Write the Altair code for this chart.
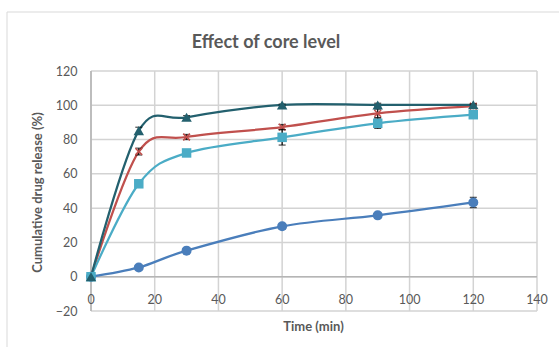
import altair as alt
import pandas as pd

time_min = [0, 15, 30, 60, 90, 120]
series_names = ["Core level 1", "Core level 2", "Core level 3", "Core level 4"]
s1 = [0, 5.4, 15.2, 29.4, 35.8, 43.3]
s2 = [0, 73.0, 81.5, 87.3, 95.3, 99.5]
s3 = [0, 54.2, 72.2, 81.3, 89.5, 94.5]
s4 = [0, 85.2, 93.0, 100.2, 100.2, 100.3]
e1 = [0, 1, 1.5, 1.5, 1.5, 3]
e2 = [0, 2, 1.5, 1.5, 2.5, 1]
e3 = [0, 2, 1.5, 4.5, 3, 1]
e4 = [0, 2, 1, 0.5, 1, 0.5]
x_ticks = [0, 20, 40, 60, 80, 100, 120, 140]
y_ticks = [-20, 0, 20, 40, 60, 80, 100, 120]

colors = ["#4A7EBB", "#C0504D", "#4BACC6", "#23606E"]
shapes = ["circle", "M-1,-1L1,1M-1,1L1,-1", "square", "triangle-up"]
sizes = [100, 45, 90, 110]
filled = [True, False, True, True]

rows = []
for name, vals, errs in zip(series_names, [s1, s2, s3, s4], [e1, e2, e3, e4]):
    for t, v, e in zip(time_min, vals, errs):
        rows.append({"series": name, "time": t, "value": v, "lo": v - e, "hi": v + e})
df = pd.DataFrame(rows)
xtick_df = pd.DataFrame({"tick": x_ticks, "zero": [0] * len(x_ticks)})
ytick_df = pd.DataFrame({"ytick": y_ticks})

TXT = "#595959"
GRID = "#D3D3D3"
AXIS = "#B5B5B5"
FONT = "Lato"

xs = alt.Scale(domain=[0, 140], nice=False, zero=False)
ys = alt.Scale(domain=[-20, 120], nice=False, zero=False)

X_AX = alt.Axis(
    values=x_ticks, grid=False, labels=False, ticks=False,
    domain=False, title="Time (min)", titleFont=FONT, titleFontSize=13,
    titleFontWeight="bold", titleColor=TXT, titleX=222, titleY=15,
    titleBaseline="middle", titleAlign="center")
Y_AX = alt.Axis(
    values=y_ticks, grid=False,
    domain=False, ticks=False, tickSize=0, labelPadding=14, labelFont=FONT,
    labelFontSize=12.5, labelColor=TXT, title="Cumulative drug release (%)",
    titleFont=FONT, titleFontSize=13, titleFontWeight="bold", titleColor=TXT,
    titleX=-54, titleY=121, titleAngle=-90, titleBaseline="middle",
    titleAlign="center")


def X(field):
    return alt.X(field, scale=xs, axis=X_AX)


def Y(field):
    return alt.Y(field, scale=ys, axis=Y_AX)


border = alt.Chart(pd.DataFrame({"a": [0]})).mark_rect(
    filled=False, stroke="#D9D9D9", strokeWidth=1
).encode(x=alt.value(-84), y=alt.value(-59), x2=alt.value(700), y2=alt.value(500))

vgrid = alt.Chart(xtick_df).mark_rule(color=GRID, strokeWidth=1.5).encode(x=X("tick:Q"))
hgrid = alt.Chart(ytick_df).mark_rule(color=GRID, strokeWidth=1.5).encode(y=Y("ytick:Q"))

zero_line = alt.Chart(pd.DataFrame({"y": [0]})).mark_rule(
    color=AXIS, strokeWidth=1.6
).encode(y=Y("y:Q"))
left_line = alt.Chart(pd.DataFrame({"x": [0]})).mark_rule(
    color=AXIS, strokeWidth=1.6
).encode(x=X("x:Q"))

x_labels = alt.Chart(xtick_df).mark_text(
    font=FONT, fontSize=12.5, color=TXT, dy=23, baseline="middle", align="center"
).encode(x=X("tick:Q"), y=Y("zero:Q"), text="tick:Q")

layers = [border, vgrid, hgrid, zero_line, left_line, x_labels]
for i, name in enumerate(series_names):
    d = df[df["series"] == name]
    line = alt.Chart(d).mark_line(
        color=colors[i], strokeWidth=2.25, interpolate="cardinal"
    ).encode(x=X("time:Q"), y=Y("value:Q"))
    layers.append(line)
for i, name in enumerate(series_names):
    d = df[df["series"] == name]
    base = alt.Chart(d)
    err = base.transform_filter("datum.hi - datum.lo > 0")
    eb = err.mark_rule(color="black", strokeWidth=1.2).encode(
        x=X("time:Q"), y=Y("lo:Q"), y2="hi:Q")
    cap_lo = err.mark_tick(color="black", thickness=1.2, size=7, orient="horizontal").encode(
        x=X("time:Q"), y=Y("lo:Q"))
    cap_hi = err.mark_tick(color="black", thickness=1.2, size=7, orient="horizontal").encode(
        x=X("time:Q"), y=Y("hi:Q"))
    pts = base.mark_point(
        shape=shapes[i], size=sizes[i], filled=filled[i], color=colors[i],
        opacity=1, strokeWidth=1.6,
    ).encode(x=X("time:Q"), y=Y("value:Q"))
    layers += [eb, cap_lo, cap_hi, pts]

chart = alt.layer(*layers).properties(
    width=446, height=240,
    background="white",
    autosize=alt.AutoSizeParams(type="none"),
    padding={"left": 91, "top": 71, "right": 22, "bottom": 36},
    title=alt.TitleParams("Effect of core level", font=FONT, fontSize=18,
                          fontWeight="bold", color=TXT, anchor="middle",
                          dx=-48, dy=40, offset=0),
).configure_view(stroke=None)

chart.save("out.html", embed_options={"renderer": "svg", "actions": False})
